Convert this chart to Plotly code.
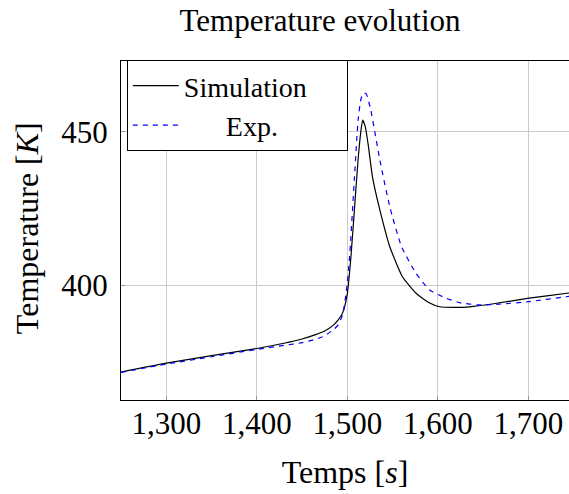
import plotly.graph_objects as go

# Simulation series
t_sim = [1250, 1300, 1350, 1400, 1430, 1450, 1465, 1475, 1485, 1490, 1495, 1500,
         1504, 1508, 1512, 1515, 1517, 1520, 1523, 1528, 1536, 1547, 1561, 1576,
         1590, 1602, 1620, 1635, 1660, 1701, 1745, 1755]
T_sim = [371.6, 374.5, 377.0, 379.3, 381.0, 382.4, 383.8, 385.0, 387.0, 388.6, 391.0, 397.0,
         409.0, 425.0, 441.0, 450.0, 453.8, 451.5, 446.0, 435.0, 424.5, 412.5, 402.7, 397.3,
         394.3, 392.9, 392.7, 392.9, 393.8, 395.7, 397.4, 397.8]

# Experimental series
t_exp = [1250, 1300, 1350, 1400, 1430, 1450, 1465, 1475, 1485, 1490, 1495, 1499,
         1502, 1504, 1508, 1512, 1515, 1518, 1521, 1526, 1536, 1547, 1560, 1576,
         1591, 1609, 1625, 1646, 1670, 1701, 1745, 1755]
T_exp = [371.5, 374.2, 376.6, 379.0, 380.3, 381.2, 382.3, 383.4, 385.5, 387.0, 390.5, 398.0,
         407.0, 415.7, 435.3, 453.8, 460.5, 462.6, 462.3, 457.0, 440.8, 425.5, 412.5, 403.8,
         398.4, 395.7, 394.2, 393.5, 393.8, 394.6, 396.3, 396.7]

x_ticks = [1300, 1400, 1500, 1600, 1700]
x_ticklabels = ["1,300", "1,400", "1,500", "1,600", "1,700"]
y_ticks = [400, 450]
y_ticklabels = ["400", "450"]

FONT = "Liberation Serif"
NB = "\u00a0"

fig = go.Figure()
fig.add_trace(go.Scatter(x=t_sim, y=T_sim, mode="lines", name="Simulation" + NB * 5,
                         line=dict(color="black", width=1.2, shape="spline", smoothing=0.5)))
fig.add_trace(go.Scatter(x=t_exp, y=T_exp, mode="lines",
                         name=NB * 6 + "Exp.",
                         line=dict(color="#0000ff", width=1.2, dash="5px,5px", shape="spline", smoothing=0.5)))

fig.update_layout(
    width=569, height=494,
    margin=dict(l=121, r=0, t=61, b=94, autoexpand=False),
    paper_bgcolor="white", plot_bgcolor="white",
    hovermode=False,
    font=dict(family=FONT, size=31, color="black"),
    title=dict(text="Temperature evolution", x=320/569, xanchor="center",
               y=1-20/494, yanchor="middle", xref="container", yref="container",
               font=dict(family=FONT, size=31, color="black")),
    legend=dict(x=0.013, y=1.003, xanchor="left", yanchor="top",
                bgcolor="white", bordercolor="black", borderwidth=1,
                font=dict(family=FONT, size=28, color="black"), tracegroupgap=0,
                itemwidth=46),
    showlegend=True,
    annotations=[dict(text="Temperature [<i>K</i>]", textangle=-90,
                      xref="paper", yref="paper", x=(27-121)/448, y=0.507,
                      xanchor="center", yanchor="middle", showarrow=False,
                      font=dict(family=FONT, size=32, color="black"))],
)
fig.update_xaxes(range=[1250, 1745], tickvals=x_ticks, ticktext=x_ticklabels,
                 tickfont=dict(family=FONT, size=31, color="black"),
                 ticklabelstandoff=-4,
                 showgrid=True, gridcolor="#cccccc", gridwidth=1,
                 showline=True, linecolor="black", linewidth=1, mirror=True,
                 ticks="inside", ticklen=4, tickcolor="#999999",
                 zeroline=False, automargin=False,
                 title=dict(text="Temps [<i>s</i>]", standoff=20,
                            font=dict(family=FONT, size=32, color="black")))
fig.update_yaxes(range=[362.5, 473.05], tickvals=y_ticks, ticktext=y_ticklabels,
                 tickfont=dict(family=FONT, size=31, color="black"),
                 ticklabelstandoff=6,
                 showgrid=True, gridcolor="#cccccc", gridwidth=1,
                 showline=True, linecolor="black", linewidth=1, mirror=False,
                 ticks="inside", ticklen=4, tickcolor="#999999",
                 zeroline=False, automargin=False)

fig.write_html("out.html", config={"displayModeBar": False, "staticPlot": True},
               post_script="document.body.style.margin='0';")
